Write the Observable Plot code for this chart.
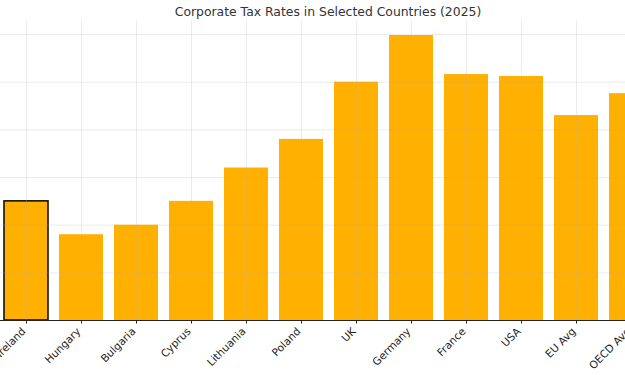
<!DOCTYPE html>
<html>
<head>
<meta charset="utf-8">
<script src="https://cdn.jsdelivr.net/npm/d3@7"></script>
<script src="https://cdn.jsdelivr.net/npm/@observablehq/plot@0.6"></script>
<style>
  html, body { margin: 0; padding: 0; background: white; overflow: hidden; }
  #wrap { position: relative; width: 625px; height: 375px; overflow: hidden; }
  #title { position: absolute; top: 4px; left: 0; width: 625px; padding-left: 31px; box-sizing: border-box;
           text-align: center; font: 12.4px "DejaVu Sans", sans-serif; color: #333; z-index: 2; }
  #chart { position: absolute; top: 0; left: 0; }
</style>
</head>
<body>
<div id="wrap">
  <div id="title">Corporate Tax Rates in Selected Countries (2025)</div>
  <div id="chart"></div>
</div>
<script>
const countries = ["Ireland", "Hungary", "Bulgaria", "Cyprus", "Lithuania", "Poland", "UK", "Germany", "France", "USA", "EU Avg", "OECD Avg"];
const rates = [12.5, 9, 10, 12.5, 16, 19, 25, 29.9, 25.8, 25.6, 21.5, 23.8];
const highlighted = ["Ireland"];
const yTicks = [0, 5, 10, 15, 20, 25, 30];

const data = countries.map((c, i) => ({country: c, rate: rates[i], hl: highlighted.includes(c)}));

const chart = Plot.plot({
  width: 625,
  height: 375,
  marginTop: 20.7,
  marginBottom: 55,
  marginLeft: 0,
  marginRight: 0,
  style: {fontFamily: "DejaVu Sans, sans-serif", fontSize: "10.6px", color: "#222", background: "white"},
  x: {domain: countries, range: [-1.5, 658.5], paddingInner: 0.2, paddingOuter: 0.1, label: null},
  y: {domain: [0, 31.4], axis: null},
  marks: [
    Plot.barY(data, {x: "country", y: "rate", fill: "#ffb000",
      stroke: d => d.hl ? "#111" : "none", strokeWidth: 1.6}),
    Plot.gridY(yTicks, {stroke: "#b0b0b0", strokeOpacity: 0.3, strokeWidth: 0.8}),
    Plot.gridX(countries, {stroke: "#b0b0b0", strokeOpacity: 0.3, strokeWidth: 0.8}),
    Plot.ruleY([0], {stroke: "#222", strokeWidth: 1}),
    Plot.axisX({tickSize: 3.5, tickRotate: -45, tickPadding: 3, fontSize: 10.6, label: null, stroke: "#222", textStroke: "none"}),
  ]
});
// shift rotated tick labels so their upper-right corner meets the tick, like the reference
chart.querySelectorAll("g[aria-label='x-axis tick label'] text").forEach(t => {
  t.setAttribute("dx", "-0.35em");
});
document.getElementById("chart").appendChild(chart);
</script>
</body>
</html>
